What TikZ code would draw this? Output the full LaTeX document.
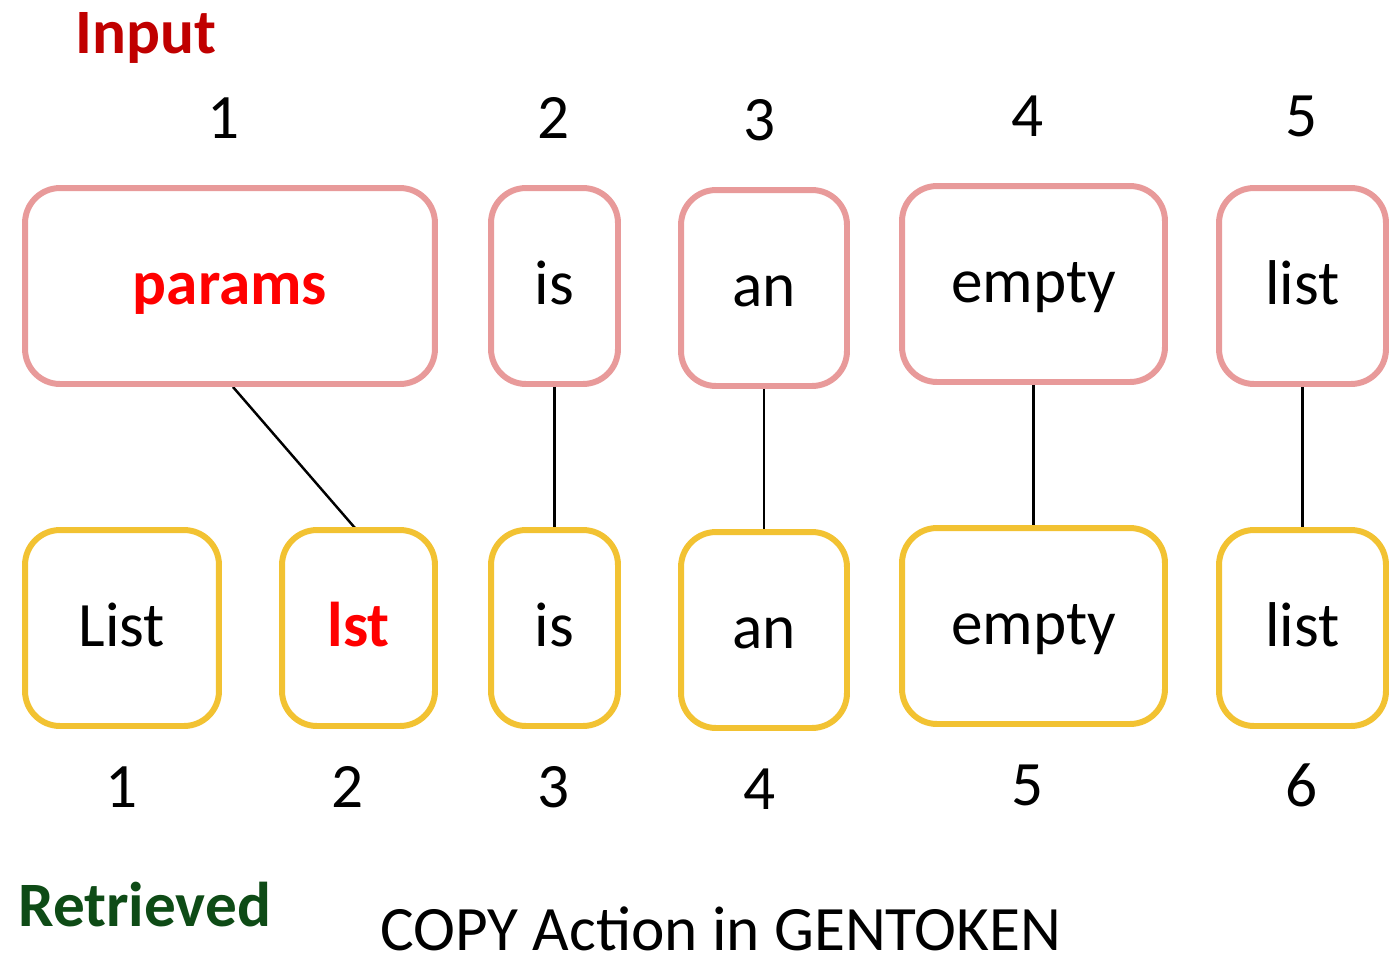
\documentclass[tikz,border=0pt]{standalone}
\usepackage{fontspec}
\setmainfont{Carlito}
\definecolor{pinkb}{HTML}{E89A9A}
\definecolor{yelb}{HTML}{F2C232}
\definecolor{redt}{HTML}{FF0000}
\definecolor{darkredt}{HTML}{C00000}
\definecolor{greent}{HTML}{0E4B16}
\begin{document}
\begin{tikzpicture}[x=0.02cm,y=-0.02cm,
  tokbox/.style={line width=3.4pt,rounded corners=0.7cm,fill=white,minimum height=3.92cm,inner sep=0pt,text height=27pt,text depth=5.4pt,font=\fontsize{36}{40}\selectfont},
  inbox/.style={tokbox,draw=pinkb},
  retbox/.style={tokbox,draw=yelb},
  num/.style={font=\fontsize{36}{40}\selectfont,inner sep=0pt},
  big/.style={font=\fontsize{36}{40}\selectfont\bfseries,inner sep=0pt},
  conn/.style={line width=1.4pt,black}]
\useasboundingbox (0,0) rectangle (1395,965);
% connectors (drawn first, boxes cover their ends)
\coordinate (c1) at (233,387);
\coordinate (c2) at (355,528);
\draw[conn] (c1) -- (c2);
% input boxes
\node[inbox,minimum width=8.2cm] (p1) at (230,286) {\bfseries\color{redt}params};
\node[inbox,minimum width=2.54cm] (p2) at (554.5,286) {is};
\node[inbox,minimum width=3.32cm] (p3) at (764,288) {an};
\node[inbox,minimum width=5.26cm] (p4) at (1033.5,284) {empty};
\node[inbox,minimum width=3.34cm] (p5) at (1302.5,286) {list};
% retrieved boxes
\node[retbox,minimum width=3.88cm] (r1) at (122,628) {List};
\node[retbox,minimum width=3.06cm] (r2) at (358.5,628) {\bfseries\color{redt}lst};
\node[retbox,minimum width=2.54cm] (r3) at (554.5,628) {is};
\node[retbox,minimum width=3.32cm] (r4) at (764,630) {an};
\node[retbox,minimum width=5.26cm] (r5) at (1033.5,626) {empty};
\node[retbox,minimum width=3.34cm] (r6) at (1302.5,628) {list};
\draw[conn] (p2.south) -- (r3.north);
\draw[conn] (p3.south) -- (r4.north);
\draw[conn] (p4.south) -- (r5.north);
\draw[conn] (p5.south) -- (r6.north);
% top numbers
\node[num] (n1) at (224,118) {1};
\node[num] (n2) at (554,118) {2};
\node[num] (n3) at (760,120) {3};
\node[num] (n4) at (1028,116) {4};
\node[num] (n5) at (1302,116) {5};
% bottom numbers
\node[num] (m1) at (122,787) {1};
\node[num] (m2) at (348,787) {2};
\node[num] (m3) at (554,787) {3};
\node[num] (m4) at (760,789) {4};
\node[num] (m5) at (1028,785) {5};
\node[num] (m6) at (1302,785) {6};
% labels
\node[big,text=darkredt,anchor=west] (inp) at (75,38) {Input};
\node[big,text=greent,anchor=west] (ret) at (18,905) {Retrieved};
\node[num,anchor=west] (cap) at (380,929) {COPY Action in GENTOKEN};
\end{tikzpicture}
\end{document}
